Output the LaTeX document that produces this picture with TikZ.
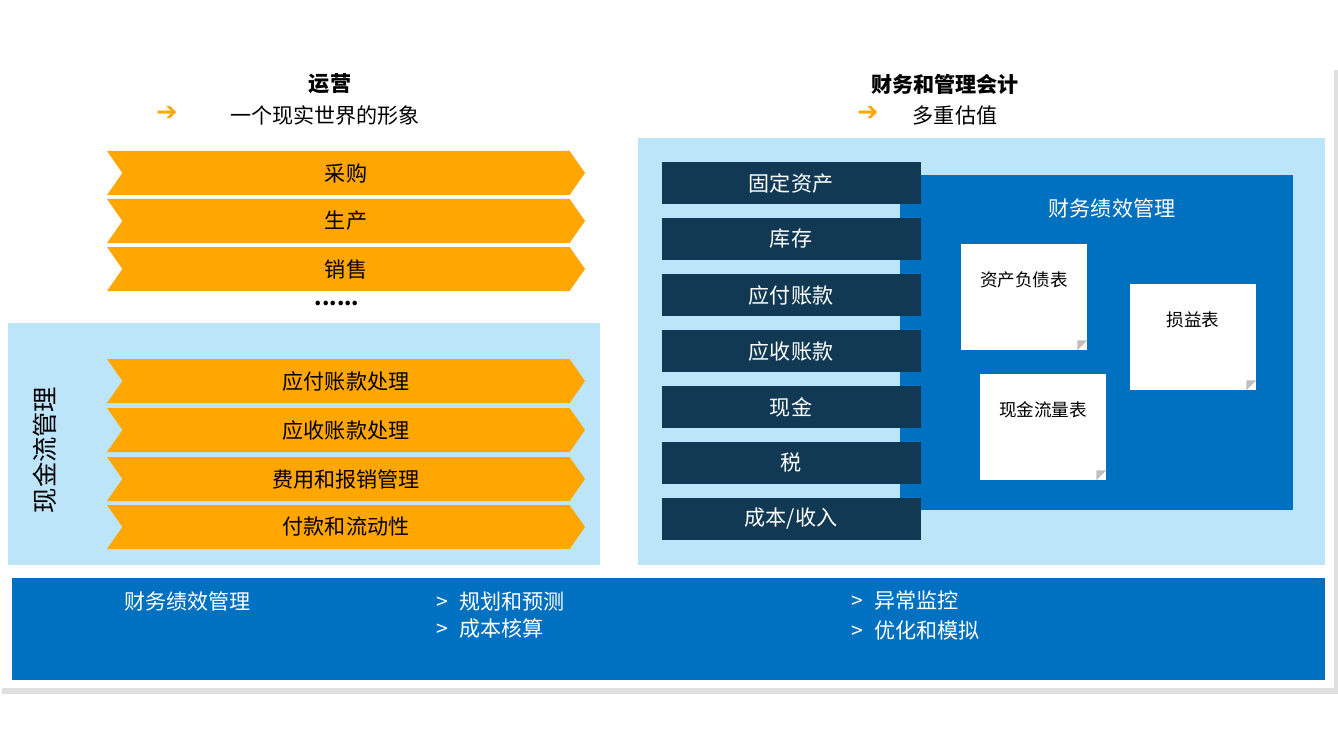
\documentclass[tikz,border=0pt]{standalone}
\usepackage{fontspec}
\setmainfont{Noto Sans CJK SC}
\newfontfamily\symfont{DejaVu Sans}
\usetikzlibrary{arrows.meta,positioning,shapes.symbols}
\definecolor{cOrange}{RGB}{255,166,0}
\definecolor{cLight}{RGB}{189,229,250}
\definecolor{cBlue}{RGB}{0,112,192}
\definecolor{cNavy}{RGB}{18,57,84}
\newlength{\pxu}\setlength{\pxu}{0.02cm}
\tikzset{
  chev/.style={signal, signal from=west, signal to=east, signal pointer angle=110, fill=cOrange, draw=none, minimum width=478\pxu, minimum height=44\pxu, font=\large, inner sep=0pt},
  acct/.style={fill=cNavy, text=white, minimum width=259\pxu, minimum height=42\pxu, font=\large, inner sep=0pt},
  note/.style={fill=white, minimum width=126\pxu, minimum height=106\pxu, align=center, text depth=36\pxu, font=\normalsize, inner sep=0pt},
  head/.style={font=\large\bfseries},
  sub/.style={font=\large},
  bar/.style={text=white, font=\large, anchor=west}
}
\begin{document}
\begin{tikzpicture}[x=0.02cm, y=-0.02cm]
    \useasboundingbox (0,0) rectangle (1338,753);
    % Panels
    \fill[black!12] (2,70) rectangle (1338,694);
    \fill[white] (0,66) rectangle (1334,688);
    \fill[cLight] (8,323) rectangle (600,565);
    \fill[cLight] (638,138) rectangle (1325,565);
    \fill[cBlue] (900,175) rectangle (1293,510);
    \fill[cBlue] (12,578) rectangle (1325,680);
    % Headings
    \node[head] (ops) at (330,84) {运营};
    \node[sub] (opsub) at (325,115) {一个现实世界的形象};
    \node[text=cOrange, font=\Large\symfont\bfseries] (oparr) at (167,114) {➔};
    \node[head] (fin) at (945,84) {财务和管理会计};
    \node[sub] (finsub) at (955,115) {多重估值};
    \node[text=cOrange, font=\Large\symfont\bfseries] (finarr) at (868,114) {➔};
    % Operations chevrons
    \node[chev] (buy) at (346,173) {采购};
    \node[chev] (make) at (346,221) {生产};
    \node[chev] (sell) at (346,269) {销售};
    \node[font=\large\bfseries] (dots) at (337,303) {......};
    \node[rotate=90, font=\Large] (cash) at (45,450) {现金流管理};
    \node[chev] (ap) at (346,381) {应付账款处理};
    \node[chev] (ar) at (346,430) {应收账款处理};
    \node[chev] (exp) at (346,479) {费用和报销管理};
    \node[chev] (pay) at (346,527) {付款和流动性};
    % Accounts
    \foreach \t [count=\i] in {固定资产,库存,应付账款,应收账款,现金,税,成本/收入}
      \node[acct] (acc\i) at (791,127+56*\i) {\t};
    \node[text=white, font=\large] (perf) at (1112,208) {财务绩效管理};
    \node[note] (bs) at (1024,297) {资产负债表};
    \node[note] (pl) at (1193,337) {损益表};
    \node[note] (cf) at (1043,427) {现金流量表};
    \foreach \n in {bs,pl,cf}
      \fill[black!25] ([xshift=-10\pxu]\n.south east) -- ([yshift=10\pxu]\n.south east) -- ([xshift=-10\pxu, yshift=10\pxu]\n.south east) -- cycle;
    % Bottom bar
    \node[bar] (bperf) at (118,601) {财务绩效管理};
    \node[bar] (plan) at (430,601) {>\,\, 规划和预测};
    \node[bar] (cost) at (430,629) {>\,\, 成本核算};
    \node[bar] (mon) at (845,601) {>\,\, 异常监控};
    \node[bar] (opt) at (845,630) {>\,\, 优化和模拟};
\end{tikzpicture}
\end{document}
